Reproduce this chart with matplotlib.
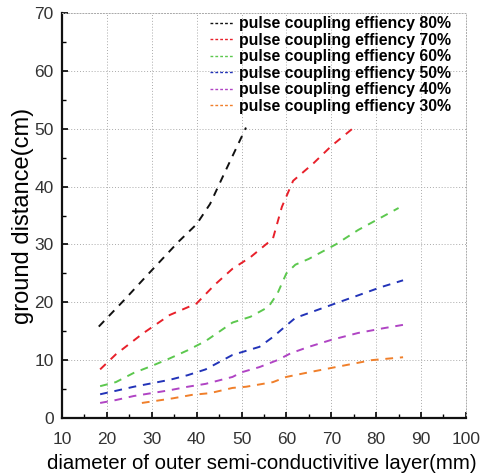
import numpy as np
import matplotlib
matplotlib.use('Agg')
import matplotlib.pyplot as plt
from matplotlib.ticker import MultipleLocator
from matplotlib.lines import Line2D

plt.rcParams['font.family'] = ['Liberation Sans', 'DejaVu Sans']

# curves: x = outer diameter (mm), y = ground distance (cm)
x80 = [18.2, 24, 29, 36, 40, 43, 46, 51]
y80 = [15.8, 20.5, 24.7, 30.5, 33.5, 37, 42, 50.2]

x70 = [18.5, 22, 28, 34, 40, 44, 48, 52, 57, 59, 61.5, 66, 70, 75.5]
y70 = [8.4, 11, 14.6, 17.8, 19.8, 23, 25.8, 27.8, 31, 36.5, 41, 44, 47, 50.5]

x60 = [18.5, 22, 26, 30, 34, 38, 42, 48, 52, 56, 58, 60, 62, 65, 71, 76, 85]
y60 = [5.5, 6.2, 7.8, 9, 10.3, 11.7, 13.3, 16.5, 17.5, 19.2, 21.5, 25, 26.5, 27.5, 30, 32.5, 36.3]

x50 = [18.5, 22, 26, 30, 34, 38, 42, 48, 54, 57, 60, 62, 67, 72, 76, 81, 86]
y50 = [4.1, 4.7, 5.4, 6, 6.6, 7.4, 8.4, 10.9, 12.3, 14, 16, 17.3, 18.7, 20.1, 21.2, 22.6, 23.8]

x40 = [18.5, 22, 26, 30, 34, 38, 42, 48, 50, 54, 58, 61, 65, 70, 76, 81.5, 86]
y40 = [2.6, 3.1, 3.8, 4.3, 4.8, 5.4, 5.9, 7.1, 7.9, 8.8, 10, 11.2, 12.3, 13.5, 14.7, 15.5, 16.1]

x30 = [27.8, 34.7, 39, 43, 48, 51, 57, 60, 65, 71, 79, 86]
y30 = [2.6, 3.4, 4.0, 4.3, 5.2, 5.4, 6.2, 7.1, 7.9, 8.8, 10, 10.5]

labels = ['pulse coupling effiency 80%', 'pulse coupling effiency 70%',
          'pulse coupling effiency 60%', 'pulse coupling effiency 50%',
          'pulse coupling effiency 40%', 'pulse coupling effiency 30%']
colors = ['#111111', '#e8202a', '#5cc84e', '#2233b8', '#b044c4', '#f07f2a']

fig = plt.figure(figsize=(4.82, 4.75), dpi=100)
ax = fig.add_axes([0.1286, 0.12, 0.838, 0.8526])

series = [(x80, y80), (x70, y70), (x60, y60), (x50, y50), (x40, y40), (x30, y30)]
for (xs, ys), c in zip(series, colors):
    ax.plot(xs, ys, ls=(0, (4, 3.5)), lw=1.4, color=c)

ax.set_xlim(10, 100)
ax.set_ylim(0, 70)
ax.xaxis.set_major_locator(MultipleLocator(10))
ax.xaxis.set_minor_locator(MultipleLocator(5))
ax.yaxis.set_major_locator(MultipleLocator(10))
ax.yaxis.set_minor_locator(MultipleLocator(5))
ax.tick_params(which='both', direction='in', top=False, right=False)
ax.tick_params(which='major', length=4, width=1.2, labelsize=12.5, labelcolor='#333333')
ax.tick_params(axis='x', which='major', pad=10)
ax.tick_params(axis='y', which='major', pad=6)
ax.tick_params(which='minor', length=3, width=1.0)

ax.grid(True, which='major', ls=(0, (1, 2)), lw=0.7, color='#aaaaaa')
for s in ['left', 'bottom']:
    ax.spines[s].set_linewidth(1.6)
    ax.spines[s].set_color('#111111')
for s in ['top', 'right']:
    ax.spines[s].set_linestyle((0, (1, 2)))
    ax.spines[s].set_linewidth(0.7)
    ax.spines[s].set_color('#aaaaaa')

ax.set_xlabel('diameter of outer semi-conductivitive layer(mm)', fontsize=14.7)
ax.xaxis.set_label_coords(0.494, -0.088)
ax.set_ylabel('ground distance(cm)', fontsize=17)
ax.yaxis.set_label_coords(-0.07, 0.5)

handles = [Line2D([], [], ls=(0, (2, 1.5)), lw=1.0, color=c) for c in colors]
ax.legend(handles, labels, loc='upper right', frameon=False,
          prop={'weight': 'bold', 'size': 11.4},
          handlelength=1.45, handletextpad=0.35, labelspacing=0.1,
          borderaxespad=0.0, bbox_to_anchor=(0.978, 1.008))

fig.savefig('out.png', dpi=100, facecolor='white')
